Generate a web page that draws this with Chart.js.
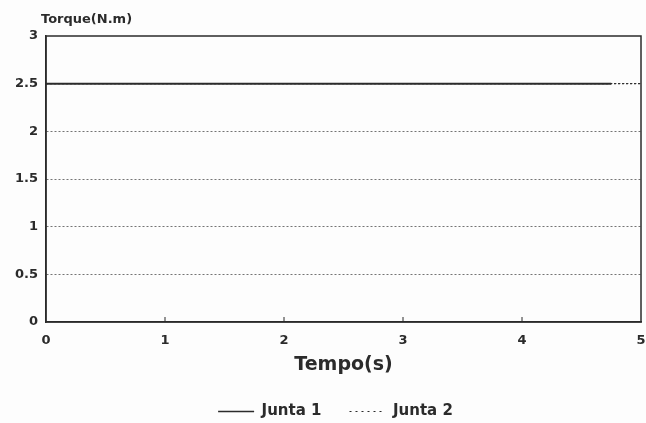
<!DOCTYPE html>
<html>
<head>
<meta charset="utf-8">
<script src="https://cdn.jsdelivr.net/npm/chart.js@4"></script>
<style>
html, body { margin: 0; padding: 0; background: #fdfdfd; }
#wrap { width: 646px; height: 423px; }
</style>
</head>
<body>
<div id="wrap"><canvas id="torqueChart" width="646" height="423"></canvas></div>
<script>
const seriesNames = ['Junta 1', 'Junta 2'];
const timeJunta1 = [0, 4.75];
const torqueJunta1 = [2.5, 2.5];
const timeJunta2 = [0, 5];
const torqueJunta2 = [2.5, 2.5];
const xTickValues = [0, 1, 2, 3, 4, 5];
const yTickValues = [0, 0.5, 1, 1.5, 2, 2.5, 3];

const inkColor = '#2b2b2b';
const gridColor = 'rgba(70, 70, 70, 0.75)';
const fontFamily = "'DejaVu Sans', 'Liberation Sans', sans-serif";

function toPoints(xs, ys) {
return xs.map((x, i) => ({ x: x, y: ys[i] }));
}

// frame, inward x ticks and the y label on top
const framePlugin = {
id: 'frame',
afterLayout(chart) {
// legend sits a bit right of centre in the original
chart.legend.left += 15;
chart.legend.right += 15;
},
afterDraw(chart) {
const { ctx, chartArea: a, scales } = chart;
ctx.save();
ctx.strokeStyle = inkColor;
ctx.lineWidth = 1.5;
ctx.strokeRect(a.left, a.top, a.right - a.left, a.bottom - a.top);
ctx.lineWidth = 1;
xTickValues.slice(1, -1).forEach(v => {
const px = scales.x.getPixelForValue(v);
ctx.beginPath();
ctx.moveTo(px, a.bottom);
ctx.lineTo(px, a.bottom - 5);
ctx.stroke();
});
ctx.fillStyle = inkColor;
ctx.font = 'bold 13px ' + fontFamily;
ctx.textBaseline = 'alphabetic';
ctx.fillText('Torque(N.m)', a.left - 5, a.top - 13);
ctx.restore();
}
};

new Chart(document.getElementById('torqueChart'), {
type: 'line',
data: {
datasets: [
{
label: seriesNames[0],
data: toPoints(timeJunta1, torqueJunta1),
borderColor: inkColor,
borderWidth: 2,
pointRadius: 0,
fill: false
},
{
label: seriesNames[1],
data: toPoints(timeJunta2, torqueJunta2),
borderColor: inkColor,
borderWidth: 1.2,
borderDash: [2, 2],
pointRadius: 0,
fill: false
}
]
},
options: {
responsive: false,
animation: false,
layout: { padding: { top: 36, right: 5, left: 0, bottom: -6 } },
plugins: {
title: { display: false },
tooltip: { enabled: false },
legend: {
position: 'bottom',
labels: {
color: inkColor,
font: { family: fontFamily, size: 15, weight: 'bold' },
usePointStyle: true,
pointStyle: 'line',
pointStyleWidth: 36,
boxHeight: 8,
padding: 28,
generateLabels: chart => chart.data.datasets.map((ds, i) => ({
text: ds.label,
datasetIndex: i,
fillStyle: ds.borderColor,
strokeStyle: ds.borderColor,
fontColor: inkColor,
lineWidth: ds.borderDash ? 1.2 : 1.5,
lineDash: ds.borderDash ? [2, 4] : [],
pointStyle: 'line',
hidden: false
}))
}
}
},
scales: {
x: {
type: 'linear',
min: 0,
max: 5,
afterBuildTicks: s => { s.ticks = xTickValues.map(v => ({ value: v })); },
afterFit: s => { s.height = 54; s.paddingRight = 0; },
grid: { display: false },
border: { color: inkColor, width: 1.5 },
ticks: {
color: inkColor,
font: { family: fontFamily, size: 13, weight: 'bold' },
padding: 3,
maxRotation: 0
},
title: {
display: true,
text: 'Tempo(s)',
color: inkColor,
font: { family: fontFamily, size: 19, weight: 'bold' },
padding: { top: 0, bottom: 0 }
}
},
y: {
min: 0,
max: 3,
afterBuildTicks: s => { s.ticks = yTickValues.map(v => ({ value: v })); },
afterFit: s => { s.width = 46; },
grid: {
color: ctx => (ctx.tick && ctx.tick.value > 0 && ctx.tick.value < 3) ? gridColor : 'rgba(0,0,0,0)',
lineWidth: 1,
drawTicks: false
},
border: { color: inkColor, width: 1.5, dash: [2, 2] },
ticks: {
color: inkColor,
font: { family: fontFamily, size: 13, weight: 'bold' },
padding: 8,
callback: v => String(v)
}
}
}
},
plugins: [framePlugin]
});
</script>
</body>
</html>
